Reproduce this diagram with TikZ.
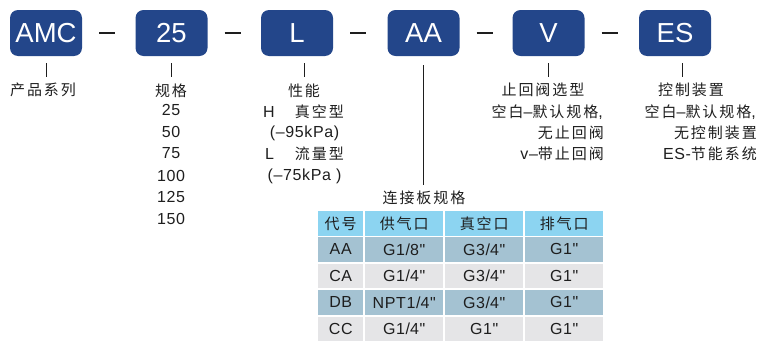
\documentclass[tikz,border=0pt]{standalone}
\usepackage{fontspec}
\setmainfont{Liberation Sans}[LetterSpace=4, Ligatures=TeXOff]
\newfontfamily\cjk{Noto Sans CJK SC}[LetterSpace=13]
\newfontfamily\boxfont{Liberation Sans}
\newcommand\zh[1]{{\cjk\fontsize{15}{18}\selectfont #1}}
\newcommand\dq{"}
\definecolor{boxblue}{HTML}{23468A}
\definecolor{hdr}{HTML}{8CD4F1}
\definecolor{rowa}{HTML}{A4C2D2}
\definecolor{rowb}{HTML}{E5E5E7}
\definecolor{txt}{HTML}{1E1E1E}
\begin{document}
\begin{tikzpicture}[x=1pt,y=-1pt,
  codebox/.style={fill=boxblue, rounded corners=8pt, minimum width=72pt, minimum height=46pt,
    text=white, inner sep=0, font=\boxfont\fontsize{27.5}{30}\selectfont},
  lbl/.style={inner sep=0, text=txt, font=\fontsize{16}{18}\selectfont},
  lblc/.style={inner sep=0, text=txt, font=\cjk\fontsize{15}{18}\selectfont},
  sepdash/.style={line width=1.8pt, txt},
  tickline/.style={line width=0.8pt, txt},
  cell/.style={anchor=north west, minimum height=24.5pt, inner sep=0, text=txt, font=\fontsize{16}{18}\selectfont},
  narrow/.style={minimum width=45pt},
  wide/.style={minimum width=78pt}
]
\useasboundingbox (0,0) rectangle (757,340);

% code boxes
\node[codebox] (amc) at (46,33) {AMC};
\node[codebox] (s25) at (171.5,33) {25};
\node[codebox] (sl) at (297,33) {L};
\node[codebox] (saa) at (423.5,33) {AA};
\node[codebox] (sv) at (548.5,33) {V};
\node[codebox] (ses) at (675,33) {ES};

% separator dashes
\foreach \a/\b in {amc/s25, s25/sl, sl/saa, saa/sv, sv/ses}{
  \draw[sepdash] ([xshift=17pt]\a.east) -- ([xshift=33pt]\a.east);
}

% ticks
\draw[tickline] ([yshift=-7pt]amc.south) -- ++(0,14);
\draw[tickline] ([yshift=-7pt]s25.south) -- ++(0,14);
\draw[tickline] ([xshift=7pt,yshift=-7pt]sl.south) -- ++(0,14);
\draw[tickline] ([yshift=-7pt]sv.south) -- ++(0,14);
\draw[tickline] ([xshift=7pt,yshift=-7pt]ses.south) -- ++(0,14);

% labels: AMC
\node[lblc] (lamc) at (43,90) {产品系列};

% labels: size
\node[lblc] (l25) at (171,91) {规格};
\foreach \v/\yy [count=\i] in {25/110,50/132,75/153,100/176,125/197,150/219}{
  \node[lbl] (sz\i) at (171,\yy) {\v};
}

% labels: L
\node[lblc] (ll) at (304,91) {性能};
\node[lbl, anchor=west] (lh) at (263,112) {H};
\node[lblc, anchor=east] (lhz) at (344,112) {真空型};
\node[lbl] (lh2) at (304.5,133) {(–95kPa)};
\node[lbl, anchor=west] (lL) at (265,154) {L};
\node[lblc, anchor=east] (lLz) at (344,154) {流量型};
\node[lbl] (lL2) at (304.5,176) {(–75kPa )};

% labels: V
\node[lblc] (lv) at (543,90) {止回阀选型};
\node[lbl, anchor=east] (lv1) at (603,112) {\zh{空白}–\zh{默认规格},};
\node[lblc, anchor=east] (lv2) at (604,133) {无止回阀};
\node[lbl, anchor=east] (lv3) at (604,154) {v–\zh{带止回阀}};

% labels: ES
\node[lblc] (les) at (691,90) {控制装置};
\node[lbl, anchor=east] (les1) at (756,112) {\zh{空白}–\zh{默认规格},};
\node[lblc, anchor=east] (les2) at (757,133) {无控制装置};
\node[lbl, anchor=east] (les3) at (757,154) {ES-\zh{节能系统}};

% connection plate
\node[lblc] (conn) at (424,198) {连接板规格};
\draw[tickline] ([yshift=-9pt]saa.south) -- ([yshift=6pt]conn.north -| saa.south);

% table
\node[cell, narrow, fill=hdr] (h1) at (318,211) {\zh{代号}};
\node[cell, wide, fill=hdr] (h2) at (365,211) {\zh{供气口}};
\node[cell, wide, fill=hdr] (h3) at (445,211) {\zh{真空口}};
\node[cell, wide, fill=hdr] (h4) at (525,211) {\zh{排气口}};

\foreach \yy/\c/\a/\b/\d/\col [count=\r] in {
  237/AA/G1\slash 8\dq/G3\slash 4\dq/G1\dq/rowa,
  263.5/CA/G1\slash 4\dq/G3\slash 4\dq/G1\dq/rowb,
  290/DB/NPT1\slash 4\dq/G3\slash 4\dq/G1\dq/rowa,
  316.5/CC/G1\slash 4\dq/G1\dq/G1\dq/rowb}{
  \node[cell, narrow, fill=\col] (r\r c1) at (318,\yy) {\c};
  \node[cell, wide, fill=\col] (r\r c2) at (365,\yy) {\a};
  \node[cell, wide, fill=\col] (r\r c3) at (445,\yy) {\b};
  \node[cell, wide, fill=\col] (r\r c4) at (525,\yy) {\d};
}
\end{tikzpicture}
\end{document}
